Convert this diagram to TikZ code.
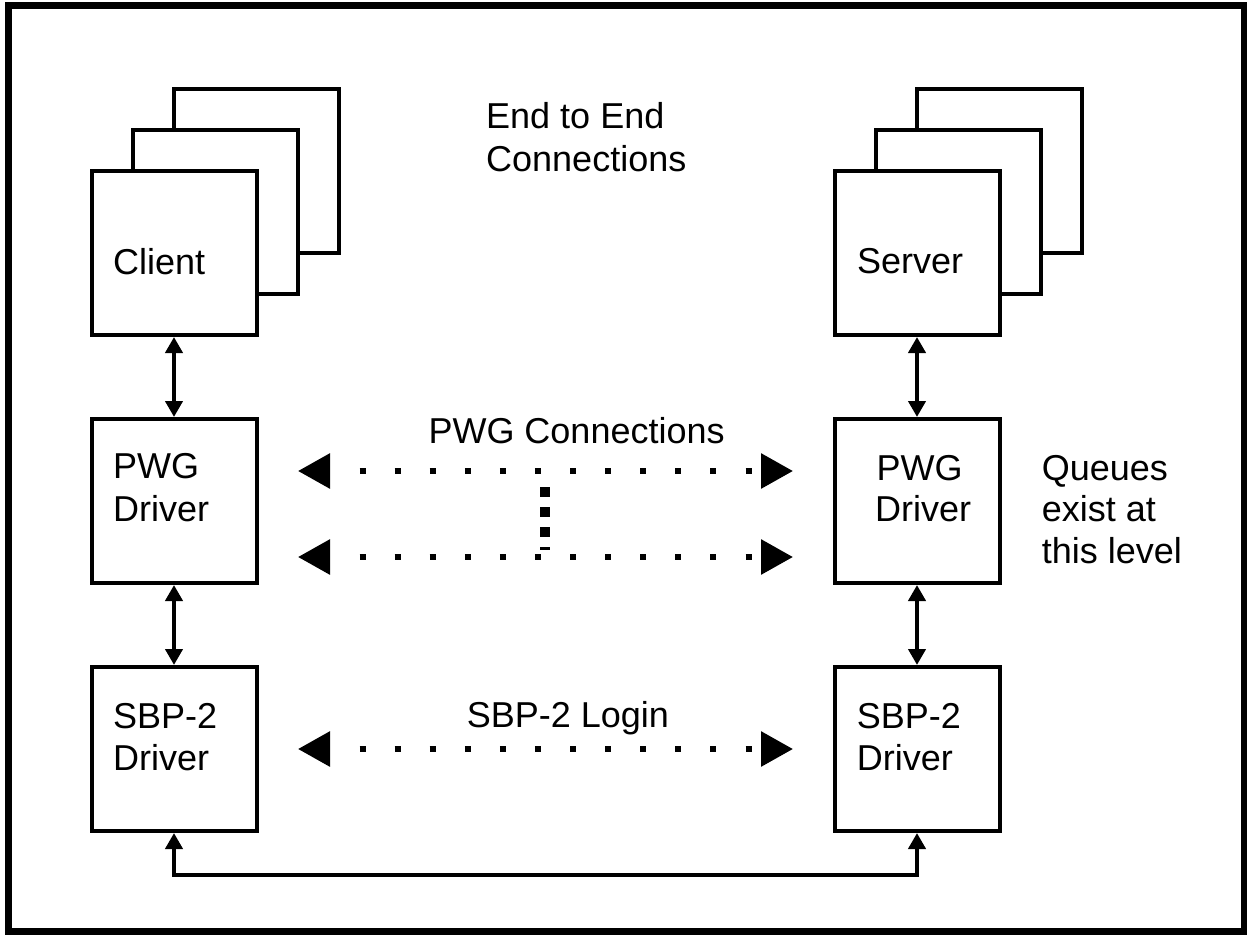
\documentclass[tikz,border=0pt]{standalone}
\usepackage{fontspec}
\setmainfont{Liberation Sans}
\usetikzlibrary{arrows.meta}

\begin{document}
\begin{tikzpicture}[x=1pt, y=-1pt,
  box/.style={draw, line width=4pt, fill=white, inner sep=0pt,
              minimum width=165pt, minimum height=164pt},
  lbl/.style={anchor=base west, inner sep=0pt,
              font=\fontsize{36pt}{43.5pt}\selectfont},
  link/.style={line width=4pt,
               {Triangle[length=16pt,width=17pt]}-{Triangle[length=16pt,width=17pt]}},
  peer/.style={line width=6pt, dash pattern=on 6pt off 29.09pt, dash phase=4.09pt,
               {Triangle[length=32pt,width=34pt]}-{Triangle[length=32pt,width=34pt]}},
  split/.style={line width=10pt, dash pattern=on 10pt off 10pt}
]
\useasboundingbox (0,0) rectangle (1247,935);

% outer frame
\draw[line width=7pt] (8.5,5.5) rectangle (1244,931.5);

% client stack (back to front)
\node[box] (clientC) at (256,171) {};
\node[box] (clientB) at (215,212) {};
\node[box] (client)  at (174,253) {};
\node[lbl] (clientT) at (113,274) {Client};

% server stack (back to front)
\node[box] (serverC) at (999,171) {};
\node[box] (serverB) at (958,212) {};
\node[box] (server)  at (917,253) {};
\node[lbl] (serverT) at (857,273) {Server};

% PWG drivers
\node[box] (pwgL) at (174,501) {};
\node[lbl] (pwgL1) at (113,478) {PWG};
\node[lbl] (pwgL2) at (113,521.7) {Driver};
\node[box] (pwgR) at (917,501) {};
\node[lbl] (pwgR1) at (876.5,480) {PWG};
\node[lbl] (pwgR2) at (875,521.7) {Driver};

% SBP-2 drivers
\node[box] (sbpL) at (174,749) {};
\node[lbl] (sbpL1) at (113,728) {SBP-2};
\node[lbl] (sbpL2) at (113,770) {Driver};
\node[box] (sbpR) at (917,749) {};
\node[lbl] (sbpR1) at (856.7,728) {SBP-2};
\node[lbl] (sbpR2) at (856.7,770) {Driver};

% free labels
\node[lbl] (e2e1) at (486,128.3) {End to End};
\node[lbl] (e2e2) at (486,171.7) {Connections};
\node[lbl] (pwgC) at (428.3,443.3) {PWG Connections};
\node[lbl] (login) at (466.7,727.5) {SBP-2 Login};
\node[lbl] (q1) at (1041.7,480) {Queues};
\node[lbl] (q2) at (1041.7,521.7) {exist at};
\node[lbl] (q3) at (1041.7,563.3) {this level};

% vertical links within each side
\draw[link] (client) -- (pwgL);
\draw[link] (pwgL) -- (sbpL);
\draw[link] (server) -- (pwgR);
\draw[link] (pwgR) -- (sbpR);
\draw[link] (sbpL.south) -- ++(0,42) -| (sbpR.south);

% peer-to-peer connections
\coordinate (pwgTopL) at (298,471);
\coordinate (pwgTopR) at (793,471);
\coordinate (pwgBotL) at (298,557);
\coordinate (pwgBotR) at (793,557);
\coordinate (loginL) at (298,749);
\coordinate (loginR) at (793,749);
\coordinate (splitT) at (545,487);
\coordinate (splitB) at (545,550);

\draw[peer] (pwgTopL) -- (pwgTopR);
\draw[peer] (pwgBotL) -- (pwgBotR);
\draw[peer] (loginL) -- (loginR);
\draw[split] (splitT) -- (splitB);
\end{tikzpicture}
\end{document}
